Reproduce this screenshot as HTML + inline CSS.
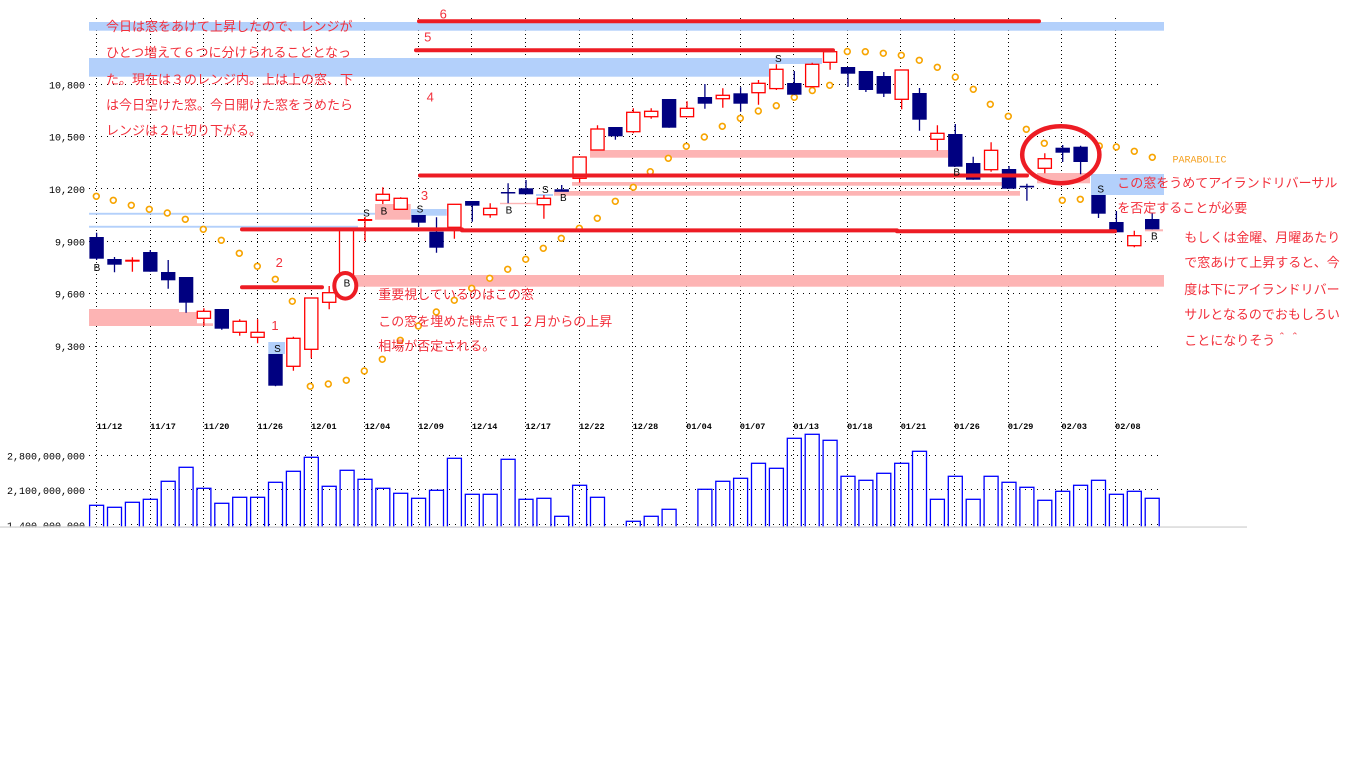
<!DOCTYPE html>
<html><head><meta charset="utf-8"><style>
html,body{margin:0;padding:0;background:#fff;}
svg{display:block;}
.jp{font-family:"Liberation Sans","Noto Sans CJK JP",sans-serif;font-size:13px;fill:#f2303c;}
.ax{font-family:"Liberation Mono",monospace;font-size:10px;fill:#000;}
.dt{font-family:"Liberation Mono",monospace;font-size:8.5px;font-weight:bold;fill:#000;}
.sb{font-family:"Liberation Sans",sans-serif;font-size:10px;fill:#000;text-anchor:middle;}
.num{font-family:"Liberation Sans",sans-serif;font-size:13px;fill:#f2303c;text-anchor:middle;}
</style></head><body>
<svg width="1366" height="768" viewBox="0 0 1366 768" xmlns="http://www.w3.org/2000/svg">
<rect width="1366" height="768" fill="#fff"/>

<!-- grid -->
<g stroke="#000" stroke-width="1" stroke-dasharray="1 5" fill="none">
<path d="M89 84.5H1163M89 136.5H1163M89 188.5H1163M89 241.5H1163M89 293.5H1163M89 346.5H1163M89 455.5H1163M89 489.5H1163M89 524.5H1163"/>
</g>
<g stroke="#000" stroke-width="1" stroke-dasharray="1 3" fill="none">
<path d="M96.5 18V527M150.5 18V527M203.5 18V527M257.5 18V527M311.5 18V527M364.5 18V527M418.5 18V527M471.5 18V527M525.5 18V527M579.5 18V527M632.5 18V527M686.5 18V527M740.5 18V527M793.5 18V527M847.5 18V527M900.5 18V527M954.5 18V527M1008.5 18V527M1061.5 18V527M1115.5 18V527"/>
</g>

<!-- light blue bands -->
<g fill="#b3d0fb">
<rect x="89" y="22" width="1075" height="8.7"/>
<rect x="89" y="58" width="680" height="18.7"/>
<rect x="769" y="58" width="53" height="6"/>
<rect x="89" y="212.8" width="286" height="1.9"/>
<rect x="89" y="225.8" width="269" height="1.9"/>
<rect x="268.3" y="342" width="16.7" height="12"/>
<rect x="411" y="209" width="35.7" height="6.7"/>
<rect x="536" y="194" width="17" height="2"/>
<rect x="1091" y="174" width="73" height="21"/>
</g>
<!-- pink bands -->
<g fill="#fdb4b4">
<rect x="89" y="309" width="90" height="17"/>
<rect x="179" y="312" width="18" height="14"/>
<rect x="197" y="323.3" width="16" height="2.7"/>
<rect x="375" y="204" width="35.7" height="15.7"/>
<rect x="353" y="275" width="811" height="11.7"/>
<rect x="590" y="150" width="358" height="7.7"/>
<rect x="572" y="182" width="430" height="3.7"/>
<rect x="554" y="191" width="466" height="4.7"/>
<rect x="500" y="202.8" width="37" height="1.4"/>
<rect x="1037" y="173" width="53" height="10.3"/>
<rect x="1145" y="229.3" width="18" height="2"/>
</g>

<!-- parabolic -->
<g fill="#fff" stroke="#f7a400" stroke-width="1.6">
<circle cx="96.3" cy="196.3" r="2.9"/><circle cx="113.3" cy="200.3" r="2.9"/><circle cx="131.3" cy="205.3" r="2.9"/><circle cx="149.3" cy="209.3" r="2.9"/><circle cx="167.3" cy="213" r="2.9"/><circle cx="185.3" cy="219.3" r="2.9"/><circle cx="203.3" cy="229.3" r="2.9"/><circle cx="221.3" cy="240.3" r="2.9"/><circle cx="239.3" cy="253.3" r="2.9"/><circle cx="257.3" cy="266.3" r="2.9"/><circle cx="275.3" cy="279.3" r="2.9"/><circle cx="292.3" cy="301.3" r="2.9"/><circle cx="310.3" cy="386.3" r="2.9"/><circle cx="328.3" cy="384" r="2.9"/><circle cx="346.3" cy="380.3" r="2.9"/><circle cx="364.3" cy="371" r="2.9"/><circle cx="382.3" cy="359.3" r="2.9"/><circle cx="400.3" cy="340.3" r="2.9"/><circle cx="418.3" cy="326" r="2.9"/><circle cx="436.3" cy="312" r="2.9"/><circle cx="454.3" cy="300.3" r="2.9"/><circle cx="471.7" cy="288.3" r="2.9"/><circle cx="489.7" cy="278.3" r="2.9"/><circle cx="507.7" cy="269.3" r="2.9"/><circle cx="525.7" cy="259.3" r="2.9"/><circle cx="543.3" cy="248.3" r="2.9"/><circle cx="561.3" cy="238.3" r="2.9"/><circle cx="579.3" cy="228.3" r="2.9"/><circle cx="597.3" cy="218.3" r="2.9"/><circle cx="615.3" cy="201.3" r="2.9"/><circle cx="633.3" cy="187.3" r="2.9"/><circle cx="650.3" cy="171.7" r="2.9"/><circle cx="668.3" cy="158.3" r="2.9"/><circle cx="686.3" cy="146.3" r="2.9"/><circle cx="704.3" cy="137" r="2.9"/><circle cx="722.3" cy="126.3" r="2.9"/><circle cx="740.3" cy="118.3" r="2.9"/><circle cx="758.3" cy="111" r="2.9"/><circle cx="776.3" cy="105.7" r="2.9"/><circle cx="794.3" cy="97.3" r="2.9"/><circle cx="812.3" cy="90.5" r="2.9"/><circle cx="829.7" cy="85.3" r="2.9"/><circle cx="847.3" cy="51.5" r="2.9"/><circle cx="865.3" cy="51.7" r="2.9"/><circle cx="883.3" cy="53.3" r="2.9"/><circle cx="901.3" cy="55.3" r="2.9"/><circle cx="919.3" cy="60.3" r="2.9"/><circle cx="937.3" cy="67.3" r="2.9"/><circle cx="955.3" cy="77" r="2.9"/><circle cx="973.3" cy="89.3" r="2.9"/><circle cx="990.3" cy="104.3" r="2.9"/><circle cx="1008.3" cy="116.3" r="2.9"/><circle cx="1026.3" cy="129.3" r="2.9"/><circle cx="1044.3" cy="143.3" r="2.9"/><circle cx="1062.3" cy="200.3" r="2.9"/><circle cx="1080.3" cy="199.3" r="2.9"/><circle cx="1099.3" cy="146" r="2.9"/><circle cx="1116.3" cy="147" r="2.9"/><circle cx="1134.3" cy="151.3" r="2.9"/><circle cx="1152.3" cy="157.3" r="2.9"/>
</g>

<!-- navy candles -->
<g stroke="#000080" stroke-width="1.3">
<path d="M96.6 232.7V260M114.5 257V272.3M150.3 250V271.7M168.2 260V288.7M186.1 277V312.7M221.8 309V329.7M275.5 354V386.3M418.6 215V226.7M436.5 217.3V252.7M472.3 201V221.7M508.1 183.3V203.3M526 180V194.3M561.7 185V191.3M615.4 127V139.7M669.1 99V127.7M704.9 84V108.7M740.6 87.3V111.7M794.3 71V94.7M848 67V86.7M865.9 71V92M883.8 72V97M919.5 88V130.7M955.3 124V166.7M973.2 156.7V179.7M1009 166V188.7M1026.9 183.7V200.7M1062.7 145V162M1080.6 145.7V174.3M1098.5 195V218M1116.4 211V232.3M1152.2 213.3V229.3"/>
</g>
<g fill="#000080">
<rect x="89.4" y="237" width="14.4" height="21.7"/>
<rect x="107.3" y="259" width="14.4" height="5.7"/>
<rect x="143.1" y="252" width="14.4" height="19.7"/>
<rect x="161" y="272" width="14.4" height="8.3"/>
<rect x="178.9" y="277" width="14.4" height="25.7"/>
<rect x="214.6" y="309" width="14.4" height="19.7"/>
<rect x="268.3" y="354" width="14.4" height="31.7"/>
<rect x="411.4" y="215" width="14.4" height="7.7"/>
<rect x="429.3" y="231.7" width="14.4" height="16"/>
<rect x="465.1" y="201" width="14.4" height="4.7"/>
<rect x="500.9" y="192" width="14.4" height="1.5"/>
<rect x="518.8" y="188.3" width="14.4" height="6"/>
<rect x="554.5" y="189.3" width="14.4" height="2.5"/>
<rect x="608.2" y="127" width="14.4" height="9.3"/>
<rect x="661.9" y="99" width="14.4" height="28.7"/>
<rect x="697.7" y="97" width="14.4" height="6.7"/>
<rect x="733.4" y="93.3" width="14.4" height="10.4"/>
<rect x="787.1" y="83" width="14.4" height="11.7"/>
<rect x="840.8" y="67" width="14.4" height="6.7"/>
<rect x="858.7" y="71" width="14.4" height="19"/>
<rect x="876.6" y="76" width="14.4" height="17.7"/>
<rect x="912.3" y="93" width="14.4" height="26.7"/>
<rect x="948.1" y="134" width="14.4" height="32.7"/>
<rect x="966" y="163" width="14.4" height="16.7"/>
<rect x="1001.8" y="169" width="14.4" height="19.7"/>
<rect x="1019.7" y="185.8" width="14.4" height="1.6"/>
<rect x="1055.5" y="147.7" width="14.4" height="5"/>
<rect x="1073.4" y="146.7" width="14.4" height="15.3"/>
<rect x="1091.3" y="195" width="14.4" height="18.7"/>
<rect x="1109.2" y="222" width="14.4" height="10.3"/>
<rect x="1145" y="219" width="14.4" height="10.3"/>
</g>

<!-- red candles -->
<g stroke="#ff0000" stroke-width="1.3">
<path d="M132.4 257.3V271.7M203.9 308.3V325.7M239.7 319.3V335.7M257.6 319.3V343.3M293.4 336.7V370.7M311.3 298V358.3M329.2 286V309.3M365 217V241M382.8 187.3V204M400.7 197.3V209.3M454.4 204.3V238.7M490.2 203.3V217.7M543.9 195V218.7M579.6 157V182.7M597.5 125.3V150M633.3 108.3V133.3M651.2 108.3V118.7M687 101.3V116.7M722.8 88.3V107.7M758.5 80V104.7M776.4 64.3V90M812.2 62.7V86.7M830.1 51.7V69.7M901.7 70V109.3M937.4 125.3V150.7M991.1 142.3V171.7M1044.8 153.3V173.3M1134.3 230.7V247.3M339.5 229V277M353.5 229V277"/>
</g>
<g fill="#ff0000">
<rect x="125.2" y="259.7" width="14.4" height="2"/>
<rect x="357.8" y="219" width="14.4" height="2"/>
</g>
<g fill="#fff" stroke="#ff0000" stroke-width="1.3">
<rect x="197.3" y="311.3" width="13.2" height="7"/>
<rect x="233.1" y="321.3" width="13.2" height="11"/>
<rect x="251" y="332.3" width="13.2" height="5"/>
<rect x="286.8" y="338.3" width="13.2" height="28"/>
<rect x="304.7" y="298" width="13.2" height="51.3"/>
<rect x="322.6" y="292.7" width="13.2" height="9.6"/>
<rect x="376.2" y="194.3" width="13.2" height="6"/>
<rect x="394.1" y="198.3" width="13.2" height="11"/>
<rect x="447.8" y="204.3" width="13.2" height="23"/>
<rect x="483.6" y="208.3" width="13.2" height="6.4"/>
<rect x="537.3" y="198.3" width="13.2" height="6.4"/>
<rect x="573" y="157" width="13.2" height="21.3"/>
<rect x="590.9" y="129" width="13.2" height="21"/>
<rect x="626.7" y="112.3" width="13.2" height="19.4"/>
<rect x="644.6" y="111.3" width="13.2" height="5.4"/>
<rect x="680.4" y="108.3" width="13.2" height="8.4"/>
<rect x="716.2" y="95.3" width="13.2" height="3.4"/>
<rect x="751.9" y="83.3" width="13.2" height="9.4"/>
<rect x="769.8" y="69.3" width="13.2" height="19.3"/>
<rect x="805.6" y="64.3" width="13.2" height="22.4"/>
<rect x="823.5" y="51.7" width="13.2" height="10.6"/>
<rect x="895.1" y="70" width="13.2" height="29.3"/>
<rect x="930.8" y="133.3" width="13.2" height="6"/>
<rect x="984.5" y="150.3" width="13.2" height="19.4"/>
<rect x="1038.2" y="158.7" width="13.2" height="9.6"/>
<rect x="1127.7" y="235.7" width="13.2" height="10"/>
</g>

<!-- thick red lines -->
<g stroke="#ed1c24" stroke-width="4" stroke-linecap="round" fill="none">
<path d="M419 21.3H1039"/>
<path d="M416 50.3H833"/>
<path d="M420 175.5H1027"/>
<path d="M242 229.4H462"/>
<path d="M462 230.4H897"/>
<path d="M897 231.3H1115"/>
<path d="M242 287.2H322"/>
</g>
<ellipse cx="345.3" cy="285.8" rx="11" ry="12.8" fill="#fff" stroke="#ed1c24" stroke-width="4"/>
<ellipse cx="1060.8" cy="154.7" rx="38.6" ry="28.5" fill="none" stroke="#ed1c24" stroke-width="4.5"/>

<!-- S/B labels -->
<text class="sb" x="97" y="270.8">B</text>
<text class="sb" x="277.5" y="351.8">S</text>
<text class="sb" x="347" y="286.5">B</text>
<text class="sb" x="366.5" y="216.5">S</text>
<text class="sb" x="384" y="214.6">B</text>
<text class="sb" x="420" y="212.6">S</text>
<text class="sb" x="509" y="213.6">B</text>
<text class="sb" x="545.3" y="192.9">S</text>
<text class="sb" x="563.3" y="200.9">B</text>
<text class="sb" x="778.3" y="61.9">S</text>
<text class="sb" x="956.7" y="175.3">B</text>
<text class="sb" x="1100.7" y="192.3">S</text>
<text class="sb" x="1154.3" y="239.6">B</text>

<!-- volume -->
<g fill="none" stroke="#0000ff" stroke-width="1.3">
<rect x="89.6" y="505.3" width="14" height="23"/><rect x="107.5" y="507.3" width="14" height="21"/><rect x="125.4" y="502.3" width="14" height="26"/><rect x="143.3" y="499.3" width="14" height="29"/><rect x="161.2" y="481.3" width="14" height="47"/><rect x="179.1" y="467.3" width="14" height="61"/><rect x="196.9" y="488.3" width="14" height="40"/><rect x="214.8" y="503.3" width="14" height="25"/><rect x="232.7" y="497.3" width="14" height="31"/><rect x="250.6" y="497.3" width="14" height="31"/><rect x="268.5" y="482.3" width="14" height="46"/><rect x="286.4" y="471.3" width="14" height="57"/><rect x="304.3" y="457.3" width="14" height="71"/><rect x="322.2" y="486.3" width="14" height="42"/><rect x="340.1" y="470.3" width="14" height="58"/><rect x="358" y="479.3" width="14" height="49"/><rect x="375.8" y="488.3" width="14" height="40"/><rect x="393.7" y="493.3" width="14" height="35"/><rect x="411.6" y="498.3" width="14" height="30"/><rect x="429.5" y="490.3" width="14" height="38"/><rect x="447.4" y="458.3" width="14" height="70"/><rect x="465.3" y="494.3" width="14" height="34"/><rect x="483.2" y="494.3" width="14" height="34"/><rect x="501.1" y="459.3" width="14" height="69"/><rect x="519" y="499.3" width="14" height="29"/><rect x="536.9" y="498.3" width="14" height="30"/><rect x="554.7" y="516.3" width="14" height="12"/><rect x="572.6" y="485.3" width="14" height="43"/><rect x="590.5" y="497.3" width="14" height="31"/><rect x="626.3" y="521.3" width="14" height="7"/><rect x="644.2" y="516.3" width="14" height="12"/><rect x="662.1" y="509.3" width="14" height="19"/><rect x="697.9" y="489.3" width="14" height="39"/><rect x="715.8" y="481.3" width="14" height="47"/><rect x="733.6" y="478.3" width="14" height="50"/><rect x="751.5" y="463.3" width="14" height="65"/><rect x="769.4" y="468.3" width="14" height="60"/><rect x="787.3" y="438.3" width="14" height="90"/><rect x="805.2" y="434.3" width="14" height="94"/><rect x="823.1" y="440.3" width="14" height="88"/><rect x="841" y="476.3" width="14" height="52"/><rect x="858.9" y="480.3" width="14" height="48"/><rect x="876.8" y="473.3" width="14" height="55"/><rect x="894.7" y="463.3" width="14" height="65"/><rect x="912.5" y="451.3" width="14" height="77"/><rect x="930.4" y="499.3" width="14" height="29"/><rect x="948.3" y="476.3" width="14" height="52"/><rect x="966.2" y="499.3" width="14" height="29"/><rect x="984.1" y="476.3" width="14" height="52"/><rect x="1002" y="482.3" width="14" height="46"/><rect x="1019.9" y="487.3" width="14" height="41"/><rect x="1037.8" y="500.3" width="14" height="28"/><rect x="1055.7" y="491.3" width="14" height="37"/><rect x="1073.6" y="485.3" width="14" height="43"/><rect x="1091.5" y="480.3" width="14" height="48"/><rect x="1109.4" y="494.3" width="14" height="34"/><rect x="1127.3" y="491.3" width="14" height="37"/><rect x="1145.2" y="498.3" width="14" height="30"/>
</g>

<!-- axis labels -->
<g class="ax" text-anchor="end">
<text x="85" y="88.5">10,800</text>
<text x="85" y="140.5">10,500</text>
<text x="85" y="193">10,200</text>
<text x="85" y="245.5">9,900</text>
<text x="85" y="297.5">9,600</text>
<text x="85" y="350">9,300</text>
<text x="85" y="459.5">2,800,000,000</text>
<text x="85" y="494">2,100,000,000</text>
<text x="85" y="529">1,400,000,000</text>
</g>
<g class="dt">
<text x="96.7" y="429">11/12</text><text x="150.3" y="429">11/17</text><text x="203.9" y="429">11/20</text><text x="257.5" y="429">11/26</text><text x="311.1" y="429">12/01</text><text x="364.7" y="429">12/04</text><text x="418.3" y="429">12/09</text><text x="471.9" y="429">12/14</text><text x="525.5" y="429">12/17</text><text x="579.1" y="429">12/22</text><text x="632.7" y="429">12/28</text><text x="686.3" y="429">01/04</text><text x="739.9" y="429">01/07</text><text x="793.5" y="429">01/13</text><text x="847.1" y="429">01/18</text><text x="900.7" y="429">01/21</text><text x="954.3" y="429">01/26</text><text x="1007.9" y="429">01/29</text><text x="1061.5" y="429">02/03</text><text x="1115.1" y="429">02/08</text>
</g>

<!-- clip bottom -->
<rect x="0" y="527.6" width="1366" height="241" fill="#fff"/>
<rect x="0" y="526.3" width="1247" height="1.5" fill="#d8d8d8"/>

<!-- PARABOLIC -->
<text x="1172.5" y="162.5" style="font-family:'Liberation Mono',monospace;font-size:10px;fill:#f4a020;">PARABOLIC</text>

<!-- range numbers -->
<text class="num" x="443.3" y="18.5">6</text>
<text class="num" x="427.7" y="41.3">5</text>
<text class="num" x="430.2" y="101.3">4</text>
<text class="num" x="424.5" y="200.2">3</text>
<text class="num" x="279.3" y="267.2">2</text>
<text class="num" x="275" y="330.2">1</text>

<!-- annotations -->
<g class="jp">
<text x="106" y="31">今日は窓をあけて上昇したので、レンジが</text>
<text x="106" y="57">ひとつ増えて６つに分けられることとなっ</text>
<text x="106" y="84">た。現在は３のレンジ内。上は上の窓、下</text>
<text x="106" y="109.5">は今日空けた窓。今日開けた窓をうめたら</text>
<text x="106" y="135">レンジは２に切り下がる。</text>

<text x="378.3" y="299.2">重要視しているのはこの窓</text>
<text x="378.3" y="326">この窓を埋めた時点で１２月からの上昇</text>
<text x="378.3" y="350.6">相場が否定される。</text>

<text x="1117.3" y="187.6">この窓をうめてアイランドリバーサル</text>
<text x="1117.3" y="212.6">を否定することが必要</text>

<text x="1184.3" y="242.2">もしくは金曜、月曜あたり</text>
<text x="1184.3" y="267.2">で窓あけて上昇すると、今</text>
<text x="1184.3" y="294">度は下にアイランドリバー</text>
<text x="1184.3" y="319">サルとなるのでおもしろい</text>
<text x="1184.3" y="345">ことになりそう＾＾</text>
</g>
</svg>
</body></html>
